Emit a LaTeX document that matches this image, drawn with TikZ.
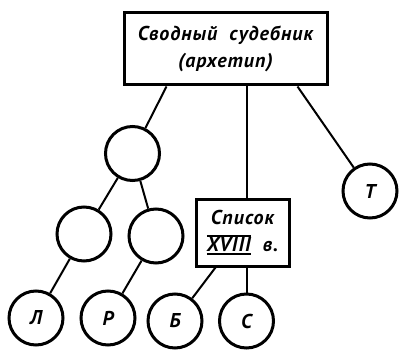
\documentclass[tikz,border=0pt]{standalone}
\usepackage{fontspec}
\setmainfont{PT Sans}
\newcommand{\romanbar}[1]{\setbox0\hbox{#1}\rlap{\rule[-3pt]{\wd0}{1.6pt}}\rlap{\rule[\dimexpr\ht0+1pt\relax]{\wd0}{1.6pt}}\box0}
\begin{document}
\begin{tikzpicture}[x=1pt,y=-1pt,
  circ/.style={circle, draw, line width=3pt, minimum size=54pt, inner sep=0pt, font=\bfseries\itshape\fontsize{20}{20}\selectfont},
  box/.style={draw, line width=3pt, inner sep=0pt, align=center, font=\bfseries\itshape\fontsize{20}{27}\selectfont\addfontfeature{LetterSpace=5}},
  conn/.style={line width=2pt}]
\useasboundingbox (0,0) rectangle (399,350);
\node[box, minimum width=203pt, minimum height=72pt] (top) at (225.5,49) {Сводный\ \ судебник\\(архетип)};
\node[box, minimum width=93pt, minimum height=67pt] (sp) at (242.5,232.5) {Список\\\romanbar{XVIII}\ \ в.};
\node[circ] (A) at (132.5,153.5) {};
\node[circ] (B) at (84,234) {};
\node[circ] (C) at (156,236) {};
\node[circ] (L) at (36,318) {Л};
\node[circ] (R) at (108,318) {Р};
\node[circ] (Bv) at (175,321) {Б};
\node[circ] (S) at (246.5,321) {С};
\node[circ] (T) at (370,191) {Т};
\draw[conn] ([xshift=44pt]top.south west) -- (A);
\draw[conn] ([xshift=4pt]sp.north) -- ([xshift=4pt]sp.north |- top.south);
\draw[conn] ([xshift=-31pt]top.south east) -- (T);
\draw[conn] (A) -- (B);
\draw[conn] (A) -- (C);
\draw[conn] (B) -- (L);
\draw[conn] (C) -- (R);
\draw[conn] ([xshift=-27pt]sp.south) -- (Bv);
\draw[conn] (S) -- (S |- sp.south);
\end{tikzpicture}
\end{document}
